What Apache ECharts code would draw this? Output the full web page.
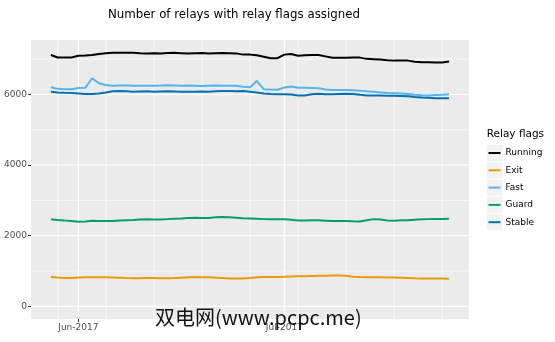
<!DOCTYPE html>
<html><head><meta charset="utf-8">
<script src="https://cdn.jsdelivr.net/npm/echarts@6/dist/echarts.min.js"></script>
<style>html,body{margin:0;padding:0;background:#fff}#c{width:555px;height:342px}</style>
</head><body><div id="c"></div>
<script>
// ---- data (daily, starting 2017-05-28) ----
const startDay = [2017, 4, 28];
const seriesNames = ['Running', 'Exit', 'Fast', 'Guard', 'Stable'];
const running = [7120,7050,7045,7050,7100,7105,7120,7150,7170,7180,7185,7185,7180,7170,7165,7170,7165,7175,7180,7170,7160,7170,7175,7165,7170,7175,7170,7165,7130,7130,7110,7070,7030,7030,7130,7145,7100,7110,7120,7120,7080,7040,7040,7040,7050,7045,7010,7000,6990,6970,6960,6960,6960,6930,6915,6915,6910,6910,6935];
const exitv = [830,815,805,805,815,820,820,820,820,815,810,800,795,795,800,800,795,795,800,810,820,830,825,820,810,800,790,785,790,805,820,830,830,830,835,845,855,855,860,865,865,870,875,865,840,830,825,825,820,815,815,810,805,795,790,785,785,785,782];
const fast = [6205,6160,6150,6150,6185,6190,6460,6320,6270,6250,6255,6255,6250,6250,6245,6250,6255,6265,6255,6245,6255,6250,6240,6250,6255,6250,6250,6245,6220,6205,6380,6150,6140,6135,6200,6225,6190,6190,6185,6180,6140,6130,6130,6125,6120,6110,6090,6080,6060,6040,6035,6030,6015,5990,5980,5975,5985,5995,6010];
const guard = [2465,2445,2430,2420,2395,2400,2425,2420,2415,2420,2430,2440,2445,2460,2465,2460,2460,2470,2480,2490,2505,2510,2500,2505,2520,2530,2525,2510,2495,2490,2480,2470,2465,2465,2465,2450,2430,2430,2440,2435,2425,2415,2420,2420,2410,2405,2440,2470,2460,2430,2425,2440,2440,2455,2465,2470,2475,2475,2480];
const stable = [6080,6060,6050,6045,6030,6015,6015,6030,6060,6095,6100,6090,6080,6085,6090,6080,6085,6090,6085,6075,6080,6080,6085,6080,6090,6100,6100,6095,6100,6080,6055,6030,6015,6005,6010,6000,5970,5975,6010,6025,6010,6005,6015,6020,6015,5990,5970,5975,5970,5965,5965,5960,5950,5930,5915,5905,5895,5895,5895];
const seriesColors = ['#000000', '#E69F00', '#56B4E9', '#009E73', '#0072B2'];
const xMajorBreaks = [[2017, 5, 1], [2017, 6, 1]];
const xMinorBreaks = [[2017,4,29],[2017,5,5],[2017,5,12],[2017,5,19],[2017,5,26],[2017,6,3],[2017,6,10],[2017,6,17],[2017,6,24]];
const yMajorBreaks = [0, 2000, 4000, 6000];
const yMinorBreaks = [1000, 3000, 5000, 7000];
const monthNames = ['Jan','Feb','Mar','Apr','May','Jun','Jul','Aug','Sep','Oct','Nov','Dec'];

const ts = a => new Date(a[0], a[1], a[2]).getTime();
const dayTs = running.map((_, i) => new Date(startDay[0], startDay[1], startDay[2] + i).getTime());
const allVals = [running, exitv, fast, guard, stable];
const span = dayTs[dayTs.length - 1] - dayTs[0];
const xMin = dayTs[0] - 0.05 * span;
const xMax = dayTs[dayTs.length - 1] + 0.05 * span;
const yTop = Math.max(...allVals.flat());
const yMin = -0.05 * yTop, yMax = yTop * 1.05;

const FONT = 'DejaVu Sans';
const chart = echarts.init(document.getElementById('c'), null, {renderer: 'canvas'});

// panel grid lines drawn as plain line series through the axes' scales
const gridLineSeries = (pts, w) => ({
  type: 'line', data: pts, symbol: 'none', showSymbol: false, silent: true, z: 2,
  lineStyle: {color: '#FFFFFF', width: w}, emphasis: {disabled: true}, tooltip: {show: false}
});
const gridSeries = [
  ...xMinorBreaks.map(d => gridLineSeries([[ts(d), yMin], [ts(d), yMax]], 0.6)),
  ...yMinorBreaks.map(v => gridLineSeries([[xMin, v], [xMax, v]], 0.6)),
  ...xMajorBreaks.map(d => gridLineSeries([[ts(d), yMin], [ts(d), yMax]], 1.2)),
  ...yMajorBreaks.map(v => gridLineSeries([[xMin, v], [xMax, v]], 1.2))
];

const series = gridSeries.concat(seriesNames.map((n, k) => ({
  name: n, type: 'line', symbol: 'none', showSymbol: false, z: 3,
  data: dayTs.map((t, i) => [t, allVals[k][i]]),
  lineStyle: {color: seriesColors[k], width: 2}, itemStyle: {color: seriesColors[k]}
})));

const legendTop = 145, legendStep = 17.3;
const keyRects = seriesNames.map((n, i) => ({
  type: 'rect', left: 486.7, top: legendTop + i * legendStep, z: 0,
  shape: {width: 16, height: 16}, style: {fill: '#F2F2F2'}
}));

chart.setOption({
  animation: false,
  backgroundColor: '#FFFFFF',
  title: {
    text: 'Number of relays with relay flags assigned',
    left: 108, top: 9, padding: 0,
    textStyle: {fontFamily: FONT, fontSize: 11.8, fontWeight: 'normal', color: '#000'}
  },
  grid: {left: 31, right: 86, top: 40, bottom: 23, show: true, backgroundColor: '#EBEBEB', borderWidth: 0, containLabel: false},
  xAxis: {
    type: 'value', min: xMin, max: xMax, scale: true, position: 'bottom',
    axisLine: {show: false, onZero: false},
    axisTick: {show: true, customValues: xMajorBreaks.map(ts), length: 3, lineStyle: {color: '#333333', width: 1}},
    axisLabel: {
      show: true, customValues: xMajorBreaks.map(ts), margin: 4,
      fontFamily: FONT, fontSize: 9, color: '#4D4D4D',
      formatter: v => { const d = new Date(v); return monthNames[d.getMonth()] + '-' + d.getFullYear(); }
    },
    splitLine: {show: false}
  },
  yAxis: {
    type: 'value', min: yMin, max: yMax, position: 'left',
    axisLine: {show: false, onZero: false},
    axisTick: {show: true, customValues: yMajorBreaks, length: 3, lineStyle: {color: '#333333', width: 1}},
    axisLabel: {show: true, customValues: yMajorBreaks, margin: 4, fontFamily: FONT, fontSize: 9, color: '#4D4D4D', formatter: v => String(v)},
    splitLine: {show: false}
  },
  legend: {
    data: seriesNames, orient: 'vertical', left: 488.5, top: legendTop, padding: 0,
    itemWidth: 12, itemHeight: 2, itemGap: legendStep - 16,
    icon: 'rect',
    textStyle: {fontFamily: FONT, fontSize: 9, color: '#000', lineHeight: 16, height: 16, verticalAlign: 'middle'},
    selectedMode: false
  },
  graphic: [
    ...keyRects,
    {type: 'text', left: 486.7, top: 129, z: 5,
     style: {text: 'Relay flags', font: '10.5px "DejaVu Sans"', fill: '#000'}},
    {type: 'text', left: 155, top: 307, z: 100,
     style: {text: '双电网(www.pcpc.me)', font: '20px "Noto Sans CJK SC"', fill: '#111'}}
  ],
  series: series
});
</script></body></html>
